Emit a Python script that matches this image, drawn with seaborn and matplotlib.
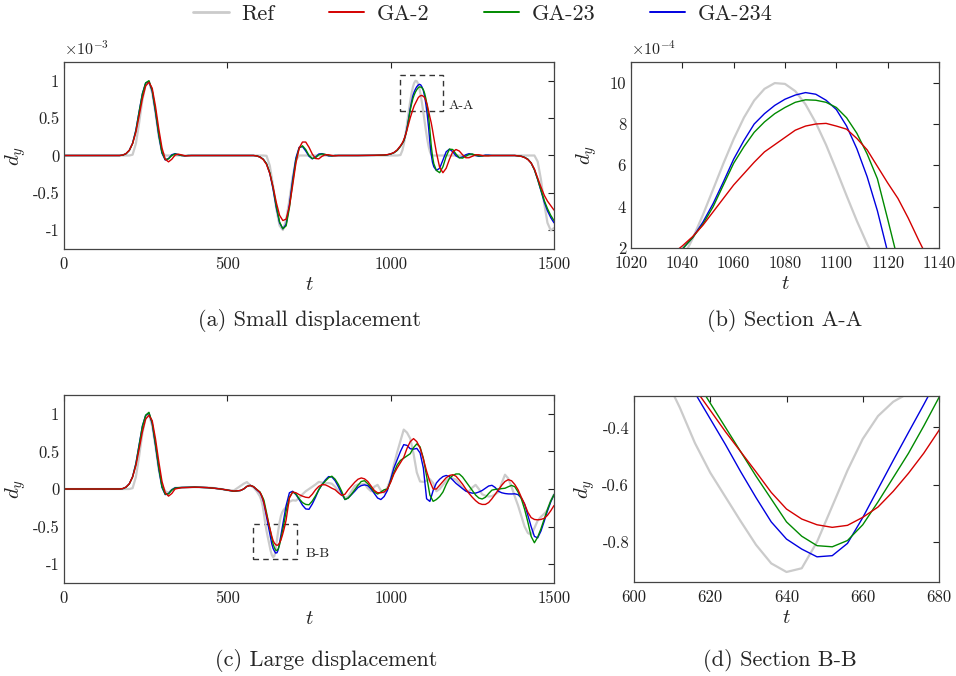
import numpy as np
import matplotlib
matplotlib.use('Agg')
import matplotlib.pyplot as plt
import seaborn as sns
from matplotlib.patches import Rectangle
from matplotlib.lines import Line2D

# ---------------- (a) small displacement, d_y in 1e-3 ----------------
t_small = ([0, 100, 150, 170] +
           [180, 190, 200, 210, 220, 230, 240, 250, 260, 270, 280, 290, 300, 310, 320, 330, 340, 350, 360, 370, 380, 390, 400] +
           [450, 500, 550, 580] +
           [590, 600, 610, 620, 630, 640, 650, 660, 670, 680, 690, 700, 710, 720, 730, 740, 750, 760, 770, 780, 790, 800, 810, 820, 830, 840, 850] +
           [900, 950, 980, 990, 1000, 1010, 1020, 1030] +
           [1036, 1040, 1044, 1048, 1052, 1056, 1060, 1064, 1068, 1072, 1076, 1080, 1084, 1088, 1092, 1096, 1100, 1104, 1108, 1112, 1116, 1120, 1124, 1128, 1132] +
           [1140, 1150, 1160, 1170, 1180, 1190, 1200, 1210, 1220, 1230, 1240, 1250, 1260, 1270, 1280, 1290, 1300, 1310, 1320] +
           [1350, 1380, 1390, 1400, 1410, 1420, 1430, 1440, 1450, 1460, 1470, 1480, 1490, 1500])

ref_small = ([0, 0, 0, 0] +
             [0, 0, 0, 0.011, 0.158, 0.437, 0.741, 0.952, 0.991, 0.839, 0.567, 0.258, 0.048, 0, 0, 0, 0, 0, 0, 0, 0, 0, 0] +
             [0, 0, 0, 0] +
             [0, 0, 0, -0.004, -0.136, -0.406, -0.713, -0.938, -0.996, -0.864, -0.594, -0.287, -0.062, 0, 0, 0, 0, 0, 0, 0, 0, 0, 0, 0, 0, 0, 0] +
             [0, 0, 0, 0, 0, 0, 0, 0.006] +
             [0.07, 0.147, 0.245, 0.36, 0.484, 0.609, 0.727, 0.831, 0.914, 0.97, 0.998, 0.994, 0.959, 0.895, 0.806, 0.699, 0.578, 0.453, 0.331, 0.219, 0.125, 0.054, 0.012, 0, 0] +
             [0, 0, 0, 0, 0, 0, 0, 0, 0, 0, 0, 0, 0, 0, 0, 0, 0, 0, 0] +
             [0, 0, 0, 0, 0, 0, 0, 0, -0.08, -0.32, -0.64, -0.9, -1.0, -0.97])

ga2_small = ([0, 0, 0, 0] +
             [0.006, 0.026, 0.07, 0.16, 0.31, 0.53, 0.76, 0.93, 0.98, 0.9, 0.66, 0.36, 0.1, -0.05, -0.085, -0.05, 0.005, 0.018, 0.008, -0.003, -0.004, 0, 0] +
             [0, 0, 0, 0] +
             [-0.006, -0.022, -0.055, -0.12, -0.24, -0.42, -0.63, -0.8, -0.87, -0.85, -0.68, -0.4, -0.1, 0.1, 0.18, 0.18, 0.11, 0.02, -0.04, -0.045, -0.01, 0.01, 0.01, 0.0, -0.005, 0, 0] +
             [0, 0.003, 0.007, 0.012, 0.022, 0.04, 0.075, 0.13] +
             [0.17, 0.21, 0.255, 0.31, 0.375, 0.44, 0.505, 0.56, 0.615, 0.665, 0.7, 0.735, 0.77, 0.79, 0.8, 0.803, 0.79, 0.775, 0.73, 0.675, 0.595, 0.515, 0.44, 0.345, 0.24] +
             [0.04, -0.16, -0.23, -0.17, -0.05, 0.05, 0.08, 0.06, 0.01, -0.03, -0.03, -0.01, 0.01, 0.01, 0.0, -0.005, -0.005, 0, 0] +
             [0, 0, -0.005, -0.012, -0.028, -0.055, -0.1, -0.18, -0.3, -0.42, -0.53, -0.61, -0.67, -0.73])

ga23_small = ([0, 0, 0, 0] +
              [0.005, 0.024, 0.068, 0.16, 0.33, 0.58, 0.82, 0.97, 1.0, 0.87, 0.6, 0.29, 0.04, -0.055, -0.045, 0.0, 0.02, 0.012, 0.0, -0.004, 0, 0, 0] +
              [0, 0, 0, 0] +
              [-0.005, -0.02, -0.05, -0.11, -0.23, -0.43, -0.68, -0.89, -0.98, -0.94, -0.7, -0.36, -0.06, 0.1, 0.13, 0.08, 0.0, -0.04, -0.03, 0.01, 0.02, 0.015, 0.0, -0.005, 0, 0, 0] +
              [0, 0.002, 0.005, 0.01, 0.02, 0.037, 0.068, 0.122] +
              [0.165, 0.195, 0.25, 0.315, 0.4, 0.505, 0.61, 0.69, 0.76, 0.81, 0.85, 0.88, 0.905, 0.917, 0.915, 0.905, 0.88, 0.83, 0.755, 0.655, 0.535, 0.34, 0.14, -0.01, -0.11] +
              [-0.2, -0.23, -0.15, -0.01, 0.085, 0.08, 0.02, -0.03, -0.035, -0.01, 0.015, 0.02, 0.005, -0.005, -0.005, 0, 0, 0, 0] +
              [0, 0, -0.005, -0.01, -0.025, -0.05, -0.1, -0.19, -0.32, -0.46, -0.6, -0.71, -0.8, -0.87])

ga234_small = ([0, 0, 0, 0] +
               [0.005, 0.025, 0.07, 0.165, 0.34, 0.59, 0.83, 0.97, 0.99, 0.86, 0.58, 0.27, 0.03, -0.06, -0.04, 0.01, 0.025, 0.01, 0.0, -0.005, 0, 0, 0] +
               [0, 0, 0, 0] +
               [-0.005, -0.02, -0.05, -0.11, -0.24, -0.45, -0.7, -0.9, -0.98, -0.92, -0.66, -0.32, -0.03, 0.11, 0.12, 0.06, -0.01, -0.045, -0.02, 0.02, 0.025, 0.01, -0.005, -0.005, 0, 0, 0] +
               [0, 0.002, 0.005, 0.01, 0.02, 0.038, 0.07, 0.125] +
               [0.165, 0.195, 0.25, 0.325, 0.415, 0.52, 0.63, 0.72, 0.8, 0.85, 0.89, 0.92, 0.94, 0.952, 0.944, 0.915, 0.87, 0.79, 0.68, 0.545, 0.38, 0.18, 0.02, -0.09, -0.15] +
               [-0.2, -0.17, -0.06, 0.05, 0.085, 0.05, -0.005, -0.03, -0.02, 0.01, 0.025, 0.015, 0.0, -0.01, -0.005, 0.005, 0.005, 0, 0] +
               [0, 0, -0.005, -0.01, -0.025, -0.05, -0.1, -0.19, -0.32, -0.47, -0.62, -0.74, -0.83, -0.9])

# ---------------- (c) large displacement, d_y in 1e-3 ----------------
t_large = ([0, 100, 150, 170] +
           [180, 190, 200, 210, 220, 230, 240, 250, 260, 270, 280, 290, 300, 310, 320, 330, 340] +
           [360, 380, 400, 420, 440, 460, 480, 500, 520, 540] +
           [550, 560, 570, 580, 590, 600] +
           [604, 608, 612, 616, 620, 624, 628, 632, 636, 640, 644, 648, 652, 656, 660, 664, 668, 672, 676, 680] +
           [690, 700, 710, 720, 730, 740, 750, 760, 770, 780,
            790, 800, 810, 820, 830, 840, 850, 860, 870, 880,
            890, 900, 910, 920, 930, 940, 950, 960, 970, 980,
            990, 1000, 1010, 1020, 1030, 1040, 1050, 1060, 1070, 1080,
            1090, 1100, 1110, 1120, 1130, 1140, 1150, 1160, 1170, 1180,
            1190, 1200, 1210, 1220, 1230, 1240, 1250, 1260, 1270, 1280,
            1290, 1300, 1310, 1320, 1330, 1340, 1350, 1360, 1370, 1380,
            1390, 1400, 1410, 1420, 1430, 1440, 1450, 1460, 1470, 1480,
            1490, 1500])

ref_large = ([0, 0, 0, 0] +
             [0, 0, 0, 0.011, 0.158, 0.437, 0.741, 0.952, 0.991, 0.839, 0.567, 0.258, 0.048, -0.03, -0.05, -0.01, 0.015] +
             [0.02, 0.02, 0.025, 0.022, 0.02, 0.012, 0.0, -0.015, -0.02, 0.04] +
             [0.07, 0.092, 0.05, 0.02, -0.03, -0.1] +
             [-0.15, -0.22, -0.33, -0.455, -0.558, -0.643, -0.728, -0.81, -0.875, -0.905, -0.892, -0.8, -0.675, -0.55, -0.44, -0.36, -0.31, -0.28, -0.26, -0.24] +
             [-0.17, -0.15, -0.155, -0.12, -0.07, -0.03, 0.0, 0.03, 0.06, 0.095,
              0.085, 0.075, 0.08, 0.07, 0.03, -0.03, -0.076, -0.12, -0.1, -0.03,
              0.04, 0.06, 0.06, 0.07, 0.01, -0.03, 0.03, 0.055, -0.02, -0.05,
              0.02, 0.13, 0.32, 0.49, 0.64, 0.79, 0.75, 0.67, 0.47, 0.22,
              0.1, 0.095, 0.11, 0.13, 0.08, -0.03, 0.0, 0.055, 0.11, 0.145,
              0.14, 0.125, 0.07, 0.015, -0.02, -0.03, 0.02, 0.055, 0.0, -0.07,
              -0.09, -0.1, -0.095, -0.07, -0.04, 0.08, 0.19, 0.14, 0.03, -0.1,
              -0.22, -0.36, -0.5, -0.585, -0.61, -0.52, -0.42, -0.37, -0.33, -0.28,
              -0.16, -0.07])

ga2_large = ([0, 0, 0, 0] +
             [0.006, 0.026, 0.07, 0.16, 0.31, 0.53, 0.76, 0.93, 0.98, 0.91, 0.67, 0.37, 0.1, -0.05, -0.095, -0.06, 0.0] +
             [0.018, 0.02, 0.024, 0.022, 0.018, 0.01, 0.0, -0.014, -0.028, -0.02] +
             [0.0, 0.034, 0.047, 0.032, -0.006, -0.045] +
             [-0.08, -0.125, -0.185, -0.265, -0.34, -0.415, -0.485, -0.555, -0.627, -0.685, -0.72, -0.74, -0.749, -0.742, -0.714, -0.678, -0.623, -0.56, -0.49, -0.41] +
             [-0.12, -0.04, -0.05, -0.075, -0.095, -0.11, -0.115, -0.07, -0.01, 0.035,
              0.058, 0.055, 0.035, 0.01, -0.01, -0.05, -0.085, -0.07, -0.01, 0.04,
              0.09, 0.13, 0.147, 0.135, 0.1, 0.04, -0.02, -0.05, -0.05, -0.04,
              0.0, 0.09, 0.2, 0.28, 0.35, 0.42, 0.54, 0.63, 0.67, 0.63,
              0.546, 0.4, 0.236, 0.1, 0.0, 0.0, 0.05, 0.1, 0.15, 0.18,
              0.19, 0.17, 0.12, 0.065, 0.0, -0.06, -0.11, -0.155, -0.19, -0.205,
              -0.205, -0.18, -0.13, -0.07, -0.01, 0.05, 0.1, 0.124, 0.11, 0.06,
              -0.01, -0.11, -0.2, -0.31, -0.38, -0.405, -0.41, -0.405, -0.39, -0.35,
              -0.29, -0.22])

ga23_large = ([0, 0, 0, 0] +
              [0.005, 0.024, 0.068, 0.16, 0.33, 0.58, 0.83, 0.98, 1.02, 0.88, 0.6, 0.29, 0.03, -0.07, -0.065, -0.015, 0.012] +
              [0.02, 0.022, 0.025, 0.022, 0.018, 0.01, 0.0, -0.015, -0.03, -0.02] +
              [0.0, 0.035, 0.048, 0.032, -0.005, -0.04] +
              [-0.075, -0.11, -0.15, -0.23, -0.315, -0.4, -0.485, -0.57, -0.65, -0.73, -0.78, -0.813, -0.817, -0.795, -0.74, -0.66, -0.575, -0.49, -0.395, -0.295] +
              [-0.11, -0.04, -0.065, -0.13, -0.18, -0.205, -0.21, -0.16, -0.09, -0.01,
               0.06, 0.105, 0.15, 0.17, 0.13, 0.06, -0.03, -0.14, -0.12, -0.07,
               -0.01, 0.05, 0.1, 0.11, 0.07, 0.02, -0.04, -0.067, -0.04, -0.01,
               0.0, 0.1, 0.22, 0.32, 0.38, 0.41, 0.44, 0.47, 0.55, 0.6,
               0.56, 0.41, 0.17, -0.08, -0.164, -0.14, -0.1, -0.04, 0.06, 0.14,
               0.18, 0.2, 0.2, 0.16, 0.1, 0.04, -0.02, -0.08, -0.12, -0.133,
               -0.11, -0.06, -0.015, -0.005, 0.0, 0.004, 0.01, 0.03, 0.048, 0.03,
               -0.04, -0.13, -0.27, -0.44, -0.63, -0.715, -0.64, -0.53, -0.4, -0.27,
               -0.16, -0.076])

ga234_large = ([0, 0, 0, 0] +
               [0.005, 0.025, 0.07, 0.165, 0.34, 0.59, 0.84, 0.98, 1.01, 0.87, 0.58, 0.27, 0.02, -0.075, -0.06, -0.01, 0.015] +
               [0.02, 0.022, 0.025, 0.022, 0.018, 0.01, 0.0, -0.015, -0.03, -0.02] +
               [0.0, 0.035, 0.048, 0.03, -0.01, -0.05] +
               [-0.085, -0.13, -0.19, -0.28, -0.37, -0.46, -0.555, -0.645, -0.73, -0.79, -0.825, -0.852, -0.848, -0.805, -0.715, -0.615, -0.515, -0.417, -0.32, -0.22] +
               [-0.05, -0.03, -0.075, -0.14, -0.215, -0.265, -0.27, -0.2, -0.11, -0.01,
                0.06, 0.12, 0.165, 0.16, 0.11, 0.03, -0.06, -0.14, -0.12, -0.076,
                -0.03, 0.02, 0.045, 0.055, 0.045, 0.0, -0.06, -0.12, -0.14, -0.1,
                -0.02, 0.13, 0.28, 0.39, 0.5, 0.59, 0.58, 0.535, 0.53, 0.54,
                0.48, 0.28, -0.13, -0.165, -0.02, 0.08, 0.13, 0.165, 0.18, 0.165,
                0.12, 0.075, 0.04, 0.005, -0.028, -0.045, -0.055, -0.055, -0.04, -0.02,
                0.01, 0.04, 0.049, 0.02, -0.03, -0.05, -0.06, -0.065, -0.066, -0.064,
                -0.075, -0.12, -0.2, -0.35, -0.5, -0.63, -0.65, -0.56, -0.43, -0.29,
                -0.17, -0.076])

labels = ['Ref', 'GA-2', 'GA-23', 'GA-234']
colors = {'Ref': '#cbcbcb', 'GA-2': '#d40000', 'GA-23': '#008a00', 'GA-234': '#0000e0'}
widths = {'Ref': 1.6, 'GA-2': 1.0, 'GA-23': 1.0, 'GA-234': 1.0}
draw_order = ['Ref', 'GA-234', 'GA-23', 'GA-2']

big_xticks = [0, 500, 1000, 1500]
big_yticks = [-1, -0.5, 0, 0.5, 1]
big_ylabels = ['-1', '-0.5', '0', '0.5', '1']
aa_xticks = [1020, 1040, 1060, 1080, 1100, 1120, 1140]
aa_yticks = [2, 4, 6, 8, 10]
bb_xticks = [600, 620, 640, 660, 680]
bb_yticks = [-0.8, -0.6, -0.4]
bb_ylabels = ['-0.8', '-0.6', '-0.4']

sns.set_theme(style='white')
plt.rcParams['font.family'] = 'serif'
plt.rcParams['font.serif'] = ['cmr10']
plt.rcParams['mathtext.fontset'] = 'cm'
plt.rcParams['axes.unicode_minus'] = False
plt.rcParams['axes.formatter.use_mathtext'] = True

W, H = 956, 676
fig = plt.figure(figsize=(W / 100, H / 100), dpi=100)


def box(l, t, r, b):
    return [l / W, 1 - b / H, (r - l) / W, (b - t) / H]


ax_a = fig.add_axes(box(64, 62, 554, 249))
ax_b = fig.add_axes(box(631, 62, 939, 248))
ax_c = fig.add_axes(box(64, 395, 554, 583))
ax_d = fig.add_axes(box(634, 396, 939, 582))

small = {'Ref': ref_small, 'GA-2': ga2_small, 'GA-23': ga23_small, 'GA-234': ga234_small}
large = {'Ref': ref_large, 'GA-2': ga2_large, 'GA-23': ga23_large, 'GA-234': ga234_large}


def draw(ax, t, curves, scale=1.0):
    for name in draw_order:
        y = np.array(curves[name]) * scale
        assert len(y) == len(t), (name, len(y), len(t))
        sns.lineplot(x=t, y=y, ax=ax, color=colors[name], linewidth=widths[name],
                     estimator=None, sort=False, legend=False)


draw(ax_a, t_small, small)
draw(ax_b, t_small, small, scale=10)
draw(ax_c, t_large, large)
draw(ax_d, t_large, large)

for ax, ylp in [(ax_a, 3), (ax_b, 8), (ax_c, 3), (ax_d, 3.5)]:
    ax.tick_params(direction='in', top=True, right=True, length=4, width=0.8,
                   labelsize=12, colors='#222222')
    ax.tick_params(axis='x', pad=5.5)
    ax.tick_params(axis='y', pad=3.5)
    for s in ax.spines.values():
        s.set_color('#444444')
        s.set_linewidth(0.9)
    ax.set_xlabel('$t$', fontsize=15, labelpad=3, color='#222222')
    ax.set_ylabel('$d_y$', fontsize=15, labelpad=ylp, color='#222222')

for ax in [ax_a, ax_c]:
    ax.set_xlim(0, 1500)
    ax.set_ylim(-1.25, 1.25)
    ax.set_xticks(big_xticks)
    ax.set_xticklabels([str(v) for v in big_xticks])
    ax.set_yticks(big_yticks)
    ax.set_yticklabels(big_ylabels)

ax_b.set_xlim(1020, 1140)
ax_b.set_ylim(2, 11)
ax_b.set_xticks(aa_xticks)
ax_b.set_xticklabels([str(v) for v in aa_xticks])
ax_b.set_yticks(aa_yticks)
ax_b.set_yticklabels([str(v) for v in aa_yticks])

ax_d.set_xlim(600, 680)
ax_d.set_ylim(-0.94, -0.29)
ax_d.set_xticks(bb_xticks)
ax_d.set_xticklabels([str(v) for v in bb_xticks])
ax_d.set_yticks(bb_yticks)
ax_d.set_yticklabels(bb_ylabels)

ax_a.text(0.0, 1.025, r'$\times10^{-3}$', transform=ax_a.transAxes, fontsize=11.5,
          ha='left', va='bottom', color='#222222')
ax_b.text(0.0, 1.025, r'$\times10^{-4}$', transform=ax_b.transAxes, fontsize=11.5,
          ha='left', va='bottom', color='#222222')

# dashed section boxes
ax_a.add_patch(Rectangle((1028, 0.6), 133, 0.47, fill=False, ls=(0, (4, 3)),
                         lw=1.0, ec='#333333'))
ax_a.text(1176, 0.66, 'A-A', fontsize=10, va='center', ha='left', color='#222222')
ax_c.add_patch(Rectangle((580, -0.93), 134, 0.463, fill=False, ls=(0, (4, 3)),
                         lw=1.0, ec='#333333'))
ax_c.text(740, -0.863, 'B-B', fontsize=10, va='center', ha='left', color='#222222')

# captions
fig.text(309 / W, 1 - 320 / H, '(a) Small displacement', ha='center', va='center', fontsize=16)
fig.text(785 / W, 1 - 320 / H, '(b) Section A-A', ha='center', va='center', fontsize=16)
fig.text(326 / W, 1 - 660 / H, '(c) Large displacement', ha='center', va='center', fontsize=16)
fig.text(780 / W, 1 - 660 / H, '(d) Section B-B', ha='center', va='center', fontsize=16)

handles = [Line2D([], [], color=colors[n], lw=widths[n] + 0.4) for n in labels]
fig.legend(handles, labels, loc='center', bbox_to_anchor=(0.505, 1 - 14 / H), ncol=4,
           frameon=False, fontsize=16, handlelength=1.6, handletextpad=0.55,
           columnspacing=2.45)

fig.savefig('out.png', dpi=100)
